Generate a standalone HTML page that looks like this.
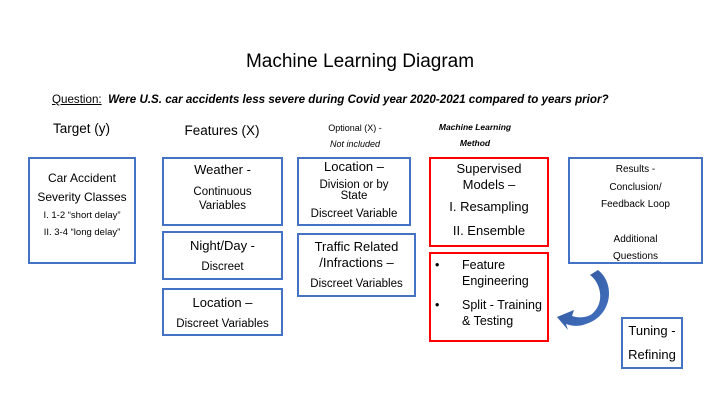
<!DOCTYPE html>
<html><head><meta charset="utf-8"><style>
body{margin:0;width:720px;height:405px;background:#fff;position:relative;font-family:"Liberation Sans",Arial,sans-serif;color:#000;overflow:hidden}
.a{position:absolute}
.b{position:absolute;box-sizing:border-box;border:2px solid #4472C4;display:flex;flex-direction:column;align-items:center;justify-content:center;text-align:center}
.r{border-color:#FF0000}
p{margin:0}
</style></head><body>
<div class="a" style="left:0;width:720px;top:51px;text-align:center;font-size:19px">Machine Learning Diagram</div>
<div class="a" style="left:52px;top:93px;font-size:11.6px;white-space:nowrap"><span style="text-decoration:underline">Question:</span>&nbsp; <b><i>Were U.S. car accidents less severe during Covid year 2020-2021 compared to years prior?</i></b></div>
<div class="a" style="left:28px;width:107px;top:121px;text-align:center;font-size:13.5px">Target (y)</div>
<div class="a" style="left:162px;width:120px;top:123px;text-align:center;font-size:13.5px">Features (X)</div>
<div class="a" style="left:297px;width:116px;top:120px;text-align:center;font-size:9px;line-height:16px">Optional (X) -<br><i>Not included</i></div>
<div class="a" style="left:425px;width:100px;top:119px;text-align:center;font-size:8.5px;line-height:16px;font-weight:bold;font-style:italic">Machine Learning<br>Method</div>

<div class="b" style="left:28px;top:157px;width:108px;height:107px;padding-bottom:12px"><p style="font-size:12px;line-height:19px">Car Accident<br>Severity Classes</p><p style="font-size:9.5px;line-height:17px">I. 1-2 “short delay”<br>II. 3-4 “long delay”</p></div>

<div class="b" style="left:162px;top:157px;width:121px;height:69px;justify-content:flex-start;padding-top:2px"><p style="font-size:13px;line-height:18px">Weather -</p><p style="font-size:11.5px;line-height:14px;margin-top:6px">Continuous<br>Variables</p></div>
<div class="b" style="left:162px;top:231px;width:121px;height:49px"><p style="font-size:13px;line-height:18px">Night/Day -</p><p style="font-size:11.5px;line-height:14px;margin-top:5px">Discreet</p></div>
<div class="b" style="left:162px;top:288px;width:121px;height:48px"><p style="font-size:13px;line-height:18px">Location –</p><p style="font-size:11.5px;line-height:14px;margin-top:5px">Discreet Variables</p></div>

<div class="b" style="left:297px;top:157px;width:114px;height:69px;justify-content:flex-start;padding-top:0"><p style="font-size:13px;line-height:16px">Location –</p><p style="font-size:11.5px;line-height:11px;margin-top:5px">Division or by<br>State</p><p style="font-size:11.5px;line-height:14px;margin-top:5px">Discreet Variable</p></div>
<div class="b" style="left:297px;top:233px;width:119px;height:64px"><p style="font-size:13px;line-height:16px">Traffic Related<br>/Infractions –</p><p style="font-size:11.5px;line-height:14px;margin-top:6px">Discreet Variables</p></div>

<div class="b r" style="left:429px;top:157px;width:120px;height:90px"><p style="font-size:13px;line-height:16px">Supervised<br>Models –</p><p style="font-size:13px;line-height:24px;margin-top:2px">I. Resampling<br>II. Ensemble</p></div>
<div class="b r" style="left:429px;top:252px;width:120px;height:90px;align-items:flex-start;text-align:left;justify-content:flex-start;padding-top:3px"><div style="font-size:12.5px;line-height:16px;display:flex;white-space:nowrap"><span style="width:31px;padding-left:4px;box-sizing:border-box">•</span><span>Feature<br>Engineering</span></div><div style="font-size:12.5px;line-height:16px;display:flex;margin-top:8px;white-space:nowrap"><span style="width:31px;padding-left:4px;box-sizing:border-box">•</span><span>Split - Training<br>&amp; Testing</span></div></div>

<div class="b" style="left:568px;top:157px;width:135px;height:107px;justify-content:flex-start;padding-top:2px"><p style="font-size:10px;line-height:17.5px">Results -<br>Conclusion/<br>Feedback Loop</p><p style="font-size:10px;line-height:17px;margin-top:17px">Additional<br>Questions</p></div>
<div class="b" style="left:621px;top:317px;width:62px;height:52px"><p style="font-size:13px;line-height:24px">Tuning -<br>Refining</p></div>

<svg class="a" style="left:0;top:0" width="720" height="405">
<defs><linearGradient id="g" x1="0" y1="0" x2="1" y2="1"><stop offset="0" stop-color="#2F5597"/><stop offset="1" stop-color="#4472C4"/></linearGradient></defs>
<path d="M598,270 C616,284 612,316 586,324 C578,327 572,326 566,324 L568,330 L557,317 L574,310 L572,316 C578,318 586,318 592,314 C606,302 600,282 590,275 Z" fill="url(#g)"/>
</svg>
</body></html>
